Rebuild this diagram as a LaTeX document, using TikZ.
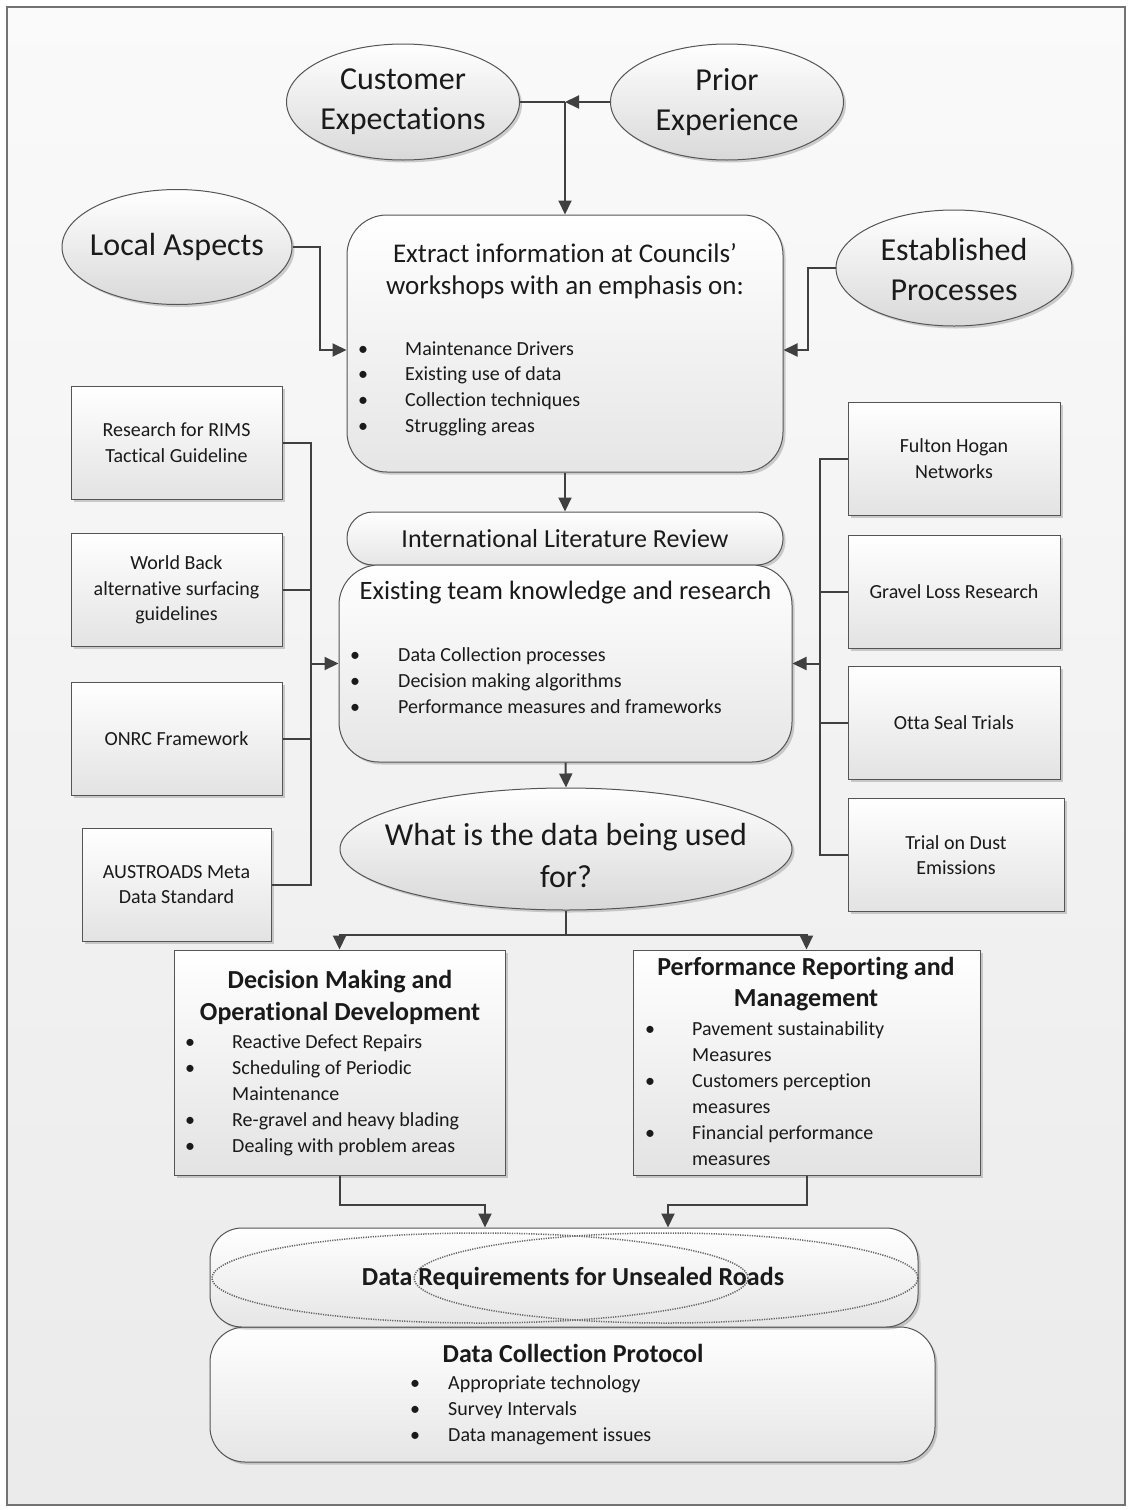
\documentclass[tikz,border=0pt]{standalone}
\usepackage{fontspec}
\setmainfont[Ligatures=NoCommon]{Carlito}
\usetikzlibrary{arrows.meta,shapes.geometric,shadows,calc}
\definecolor{ln}{HTML}{404040}
\definecolor{bd}{HTML}{555555}
\definecolor{tx}{HTML}{1A1A1A}
\newcommand{\myfs}[2]{\fontsize{#1}{#2}\selectfont}
\tikzset{
 conn/.style={draw=ln, line width=2pt},
 arr/.style={conn, -{Triangle[length=14pt,width=13pt]}},
 shdw/.style={drop shadow={shadow xshift=2.5pt, shadow yshift=-2.5pt, opacity=0.3, fill=black!60}},
 oval/.style={ellipse, draw=bd, line width=1pt, inner sep=0pt, top color=white, bottom color=black!15, shdw},
 rbox/.style={rectangle, rounded corners=#1, draw=bd, line width=1pt, inner sep=0pt, top color=white, bottom color=black!10, shdw},
 sbox/.style={rectangle, draw=bd, line width=1pt, inner sep=0pt, top color=white, bottom color=black!11, shdw, align=center, font=\myfs{20}{25.5}, text=tx},
 ovaltext/.style={align=center, font=\myfs{32}{40}, text=tx, inner sep=0pt},
 item/.style={anchor=base west, inner sep=0pt, font=\myfs{20}{26}, text=tx},
 bul/.style={anchor=base, inner sep=0pt, font=\myfs{20}{26}, text=tx},
 ttl/.style={align=center, inner sep=0pt, text=tx},
 dotell/.style={draw=black!60, dash pattern=on 1.2pt off 1.2pt, line width=1.5pt},
}
\begin{document}
\begin{tikzpicture}[x=1pt,y=-1pt]
\useasboundingbox (0,0) rectangle (1132,1510);
\fill[white] (0,0) rectangle (1132,1510);
\path[draw=black!55, line width=1.2pt, top color=black!2, bottom color=black!8] (7,7) rectangle (1125,1505);

% top ellipses
\node[oval, minimum width=233, minimum height=116] (cust) at (403,102) {};
\node[ovaltext] (custT) at (cust) {Customer\\Expectations};
\node[oval, minimum width=233, minimum height=116] (prior) at (727,102) {};
\node[ovaltext] (priorT) at (prior) {Prior\\Experience};
\node[oval, minimum width=230, minimum height=115] (local) at (177,247) {};
\node[ovaltext] (localT) at (local) {Local Aspects};
\node[oval, minimum width=236, minimum height=116] (estab) at (954,268) {};
\node[ovaltext] (estabT) at ([yshift=-1.5pt]estab.center) {Established\\Processes};

% workshop box
\node[rbox=40, minimum width=436, minimum height=257] (work) at (565,343.5) {};
\node[ttl, font=\myfs{27}{32}] (workT) at (565,271) {Extract information at Councils’\\workshops with an emphasis on:};
\foreach \t [count=\i from 0] in {Maintenance Drivers, Existing use of data, Collection techniques, Struggling areas} {
  \node[item] (wi\i) at (405,{355+25.7*\i}) {\t};
  \node[bul] (wb\i) at (363,{355+25.7*\i}) {\textbullet};
}

% ILR
\node[rbox=26, minimum width=436, minimum height=53, font=\myfs{26}{30}, text=tx] (ilr) at (565,538.5) {International Literature Review};

% existing
\node[rbox=40, minimum width=453, minimum height=197] (exist) at (565.5,663.5) {};
\node[ttl, font=\myfs{26.5}{32}] (existT) at (565.5,593) {Existing team knowledge and research};
\foreach \t [count=\i from 0] in {Data Collection processes, Decision making algorithms, Performance measures and frameworks} {
  \node[item] (ei\i) at (398,{661+26*\i}) {\t};
  \node[bul] (eb\i) at (355,{661+26*\i}) {\textbullet};
}

% what ellipse
\node[oval, minimum width=452, minimum height=122] (what) at (566,849) {};
\node[ovaltext, font=\myfs{32}{42}] (whatT) at (566,855) {What is the data being used\\for?};

% left boxes
\node[sbox, minimum width=211, minimum height=113] (rims) at (176.5,442.5) {Research for RIMS\\Tactical Guideline};
\node[sbox, minimum width=211, minimum height=113] (wbk) at (176.5,590) {World Back\\alternative surfacing\\guidelines};
\node[sbox, minimum width=211, minimum height=113] (onrc) at (176.5,738.5) {ONRC Framework};
\node[sbox, minimum width=189, minimum height=113] (aus) at (176.5,884.5) {AUSTROADS Meta\\Data Standard};

% right boxes
\node[sbox, minimum width=212, minimum height=113] (fh) at (954,458.5) {Fulton Hogan\\Networks};
\node[sbox, minimum width=212, minimum height=113] (gl) at (954,591.5) {Gravel Loss Research};
\node[sbox, minimum width=212, minimum height=113] (otta) at (954,722.5) {Otta Seal Trials};
\node[sbox, minimum width=216, minimum height=113] (dust) at (956,855) {Trial on Dust\\Emissions};

% decision / performance
\node[sbox, minimum width=331, minimum height=225] (dec) at (339.5,1062.5) {};
\node[ttl, font=\bfseries\myfs{26}{32}] (decT) at (340,997) {Decision Making and\\Operational Development};
\foreach \t/\b [count=\i from 0] in {Reactive Defect Repairs/1, Scheduling of Periodic/1, Maintenance/0, Re-gravel and heavy blading/1, Dealing with problem areas/1} {
  \node[item] (di\i) at (232,{1048.5+26*\i}) {\t};
  \ifnum\b=1 \node[bul] (db\i) at (190,{1048.5+26*\i}) {\textbullet};\fi
}
\node[sbox, minimum width=347, minimum height=225] (perf) at (806.5,1062.5) {};
\node[ttl, font=\bfseries\myfs{26}{31}] (perfT) at (806,984.5) {Performance Reporting and\\Management};
\foreach \t/\b [count=\i from 0] in {Pavement sustainability/1, Measures/0, Customers perception/1, measures/0, Financial performance/1, measures/0} {
  \node[item] (pi\i) at (692,{1035.5+26*\i}) {\t};
  \ifnum\b=1 \node[bul] (pb\i) at (650,{1035.5+26*\i}) {\textbullet};\fi
}

% protocol and requirements
\node[rbox=35, minimum width=725, minimum height=135] (prot) at (572.5,1394.5) {};
\node[ttl, font=\bfseries\myfs{26}{30}] (protT) at (573,1353) {Data Collection Protocol};
\foreach \t [count=\i from 0] in {Appropriate technology, Survey Intervals, Data management issues} {
  \node[item] (ri\i) at (448,{1389.5+26*\i}) {\t};
  \node[bul] (rb\i) at (415,{1389.5+26*\i}) {\textbullet};
}
\node[rbox=32, minimum width=708, minimum height=99] (req) at (564,1277.5) {};
\draw[dotell] (480,1278) ellipse [x radius=268, y radius=45];
\draw[dotell] (666,1278) ellipse [x radius=252, y radius=45];
\node[ttl, font=\bfseries\myfs{26}{30}] (reqT) at (573,1278) {Data Requirements for Unsealed Roads};

% connectors
\coordinate (j1) at (work.north |- cust.east);
\draw[conn] (cust.east) -- (j1);
\draw[arr] (prior.west) -- (j1);
\draw[arr] (j1) -- (work.north);
\coordinate (la) at (320,350);
\draw[arr] (local.east) -| (la) -- (work.west |- la);
\coordinate (ea) at (808,350);
\draw[arr] (estab.west) -| (ea) -- (work.east |- ea);
\draw[arr] (work.south) -- (ilr.north);
\draw[arr] (exist.south) -- (what.north);

\coordinate (lt) at (311,0);
\draw[conn] (rims.east) -- (rims.east -| lt) -- (aus.east -| lt) -- (aus.east);
\draw[conn] (wbk.east) -- (wbk.east -| lt);
\draw[conn] (onrc.east) -- (onrc.east -| lt);
\draw[arr] (exist.west -| lt) -- (exist.west);

\coordinate (rt) at (820,0);
\draw[conn] (fh.west) -- (fh.west -| rt) -- (dust.west -| rt) -- (dust.west);
\draw[conn] (gl.west) -- (gl.west -| rt);
\draw[conn] (otta.west) -- (otta.west -| rt);
\draw[arr] (exist.east -| rt) -- (exist.east);

\coordinate (wj) at (566,935);
\draw[conn] (what.south) -- (wj);
\draw[arr] (wj) -| (dec.north);
\draw[arr] (wj) -| (perf.north);

\draw[arr] (dec.south) -- ++(0,29) -| ([xshift=-79pt]req.north);
\draw[arr] (perf.south) -- ++(0,29) -| ([xshift=104pt]req.north);
\end{tikzpicture}
\end{document}
